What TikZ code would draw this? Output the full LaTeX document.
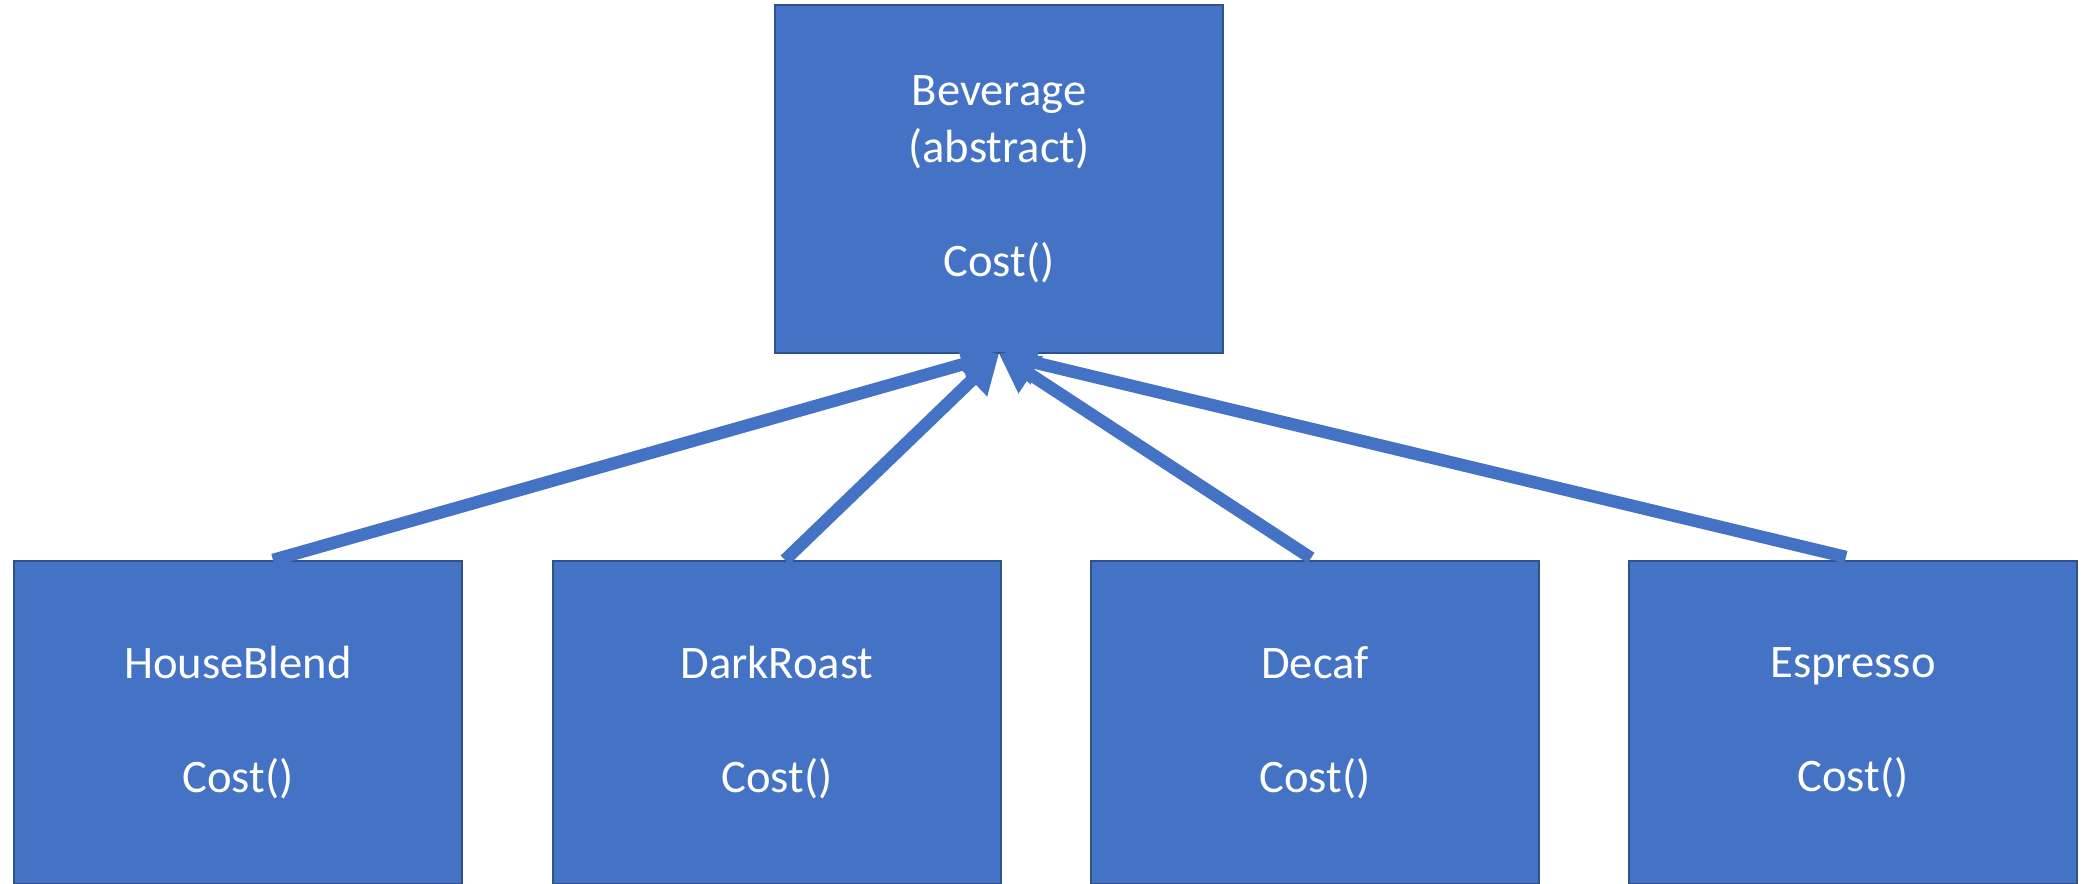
\documentclass[tikz,border=0pt]{standalone}
\usepackage{fontspec}
\setmainfont{Carlito}
\usetikzlibrary{arrows.meta,calc}
\definecolor{boxfill}{HTML}{4472C4}
\definecolor{boxline}{HTML}{2F528F}
\begin{document}
\begin{tikzpicture}[x=0.5pt,y=-0.5pt,
  cls/.style={draw=boxline, line width=1pt, fill=boxfill, text=white,
    font=\fontsize{23.3}{28.5}\selectfont, align=center, inner sep=0pt,
    minimum width=224pt},
  sub/.style={cls, minimum height=161.5pt},
  inh/.style={draw=boxfill, line width=6.25pt, -{Triangle[length=19pt,width=21pt]}}]
\useasboundingbox (0,0) rectangle (2087,883);
\clip (0,0) rectangle (2087,883);
\node[cls, minimum height=174pt] (bev) at (999,179) {Beverage\\(abstract)\\[28.5pt]Cost()};
\node[sub] (hb) at (238,722.5) {HouseBlend\\[28.5pt]Cost()};
\node[sub] (dr) at (777,722.5) {DarkRoast\\[28.5pt]Cost()};
\node[sub] (dc) at (1315,722.5) {Decaf\\[28.5pt]Cost()};
\node[sub] (es) at (1853,722.5) {Espresso\\[28.5pt]Cost()};
\draw[inh] ($(hb.north)+(35,0)$) -- (bev.south);
\draw[inh] ($(dr.north)+(8,0)$) -- (bev.south);
\draw[inh] ($(dc.north)+(-4,-2)$) -- (bev.south);
\draw[inh] ($(es.north)+(-7,-3)$) -- (bev.south);
\end{tikzpicture}
\end{document}
